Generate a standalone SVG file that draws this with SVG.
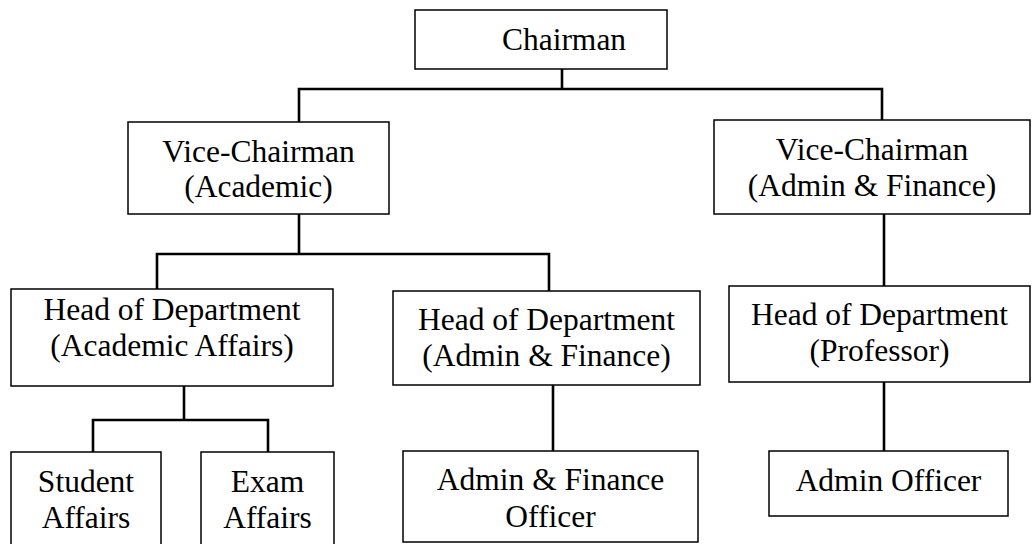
<svg xmlns="http://www.w3.org/2000/svg" width="1034" height="544" viewBox="0 0 1034 544" font-family="Liberation Serif, Times New Roman, serif">
<style>
.box{fill:#fff;stroke:#000;stroke-width:1.5}
.t{font-size:31.5px;fill:#000;text-anchor:middle}
.c{fill:none;stroke:#000;stroke-width:2.6}
</style>
<rect width="1034" height="544" fill="#fff"/>
<g id="connectors">
<path class="c" d="M562,69 V89 M299,122 V89 H882 V120"/>
<path class="c" d="M299,214 V254 M157,289 V254 H549 V291"/>
<path class="c" d="M884,214 V286"/>
<path class="c" d="M884,382 V451"/>
<path class="c" d="M184,386 V420 M93,452 V420 H268 V452"/>
<path class="c" d="M553,385 V451"/>
</g>
<g id="chairman"><rect class="box" x="415" y="10" width="252" height="59"/><text class="t" x="564" y="50">Chairman</text></g>
<g id="vc-academic"><rect class="box" x="128" y="122" width="261" height="92"/><text class="t" x="258.5" y="162">Vice-Chairman</text><text class="t" x="258.5" y="197">(Academic)</text></g>
<g id="vc-admin"><rect class="box" x="714" y="120" width="316" height="94"/><text class="t" x="872" y="160">Vice-Chairman</text><text class="t" x="872" y="196">(Admin &amp; Finance)</text></g>
<g id="hod-academic"><rect class="box" x="11" y="289" width="322" height="97"/><text class="t" x="172" y="320">Head of Department</text><text class="t" x="172" y="356">(Academic Affairs)</text></g>
<g id="hod-admin"><rect class="box" x="393" y="291" width="307" height="94"/><text class="t" x="546.5" y="330">Head of Department</text><text class="t" x="546.5" y="366">(Admin &amp; Finance)</text></g>
<g id="hod-professor"><rect class="box" x="729" y="286" width="301" height="96"/><text class="t" x="879.5" y="325">Head of Department</text><text class="t" x="879.5" y="361">(Professor)</text></g>
<g id="student-affairs"><rect class="box" x="11" y="452" width="150" height="100"/><text class="t" x="86" y="492">Student</text><text class="t" x="86" y="528">Affairs</text></g>
<g id="exam-affairs"><rect class="box" x="201" y="452" width="133" height="100"/><text class="t" x="267.5" y="492">Exam</text><text class="t" x="267.5" y="528">Affairs</text></g>
<g id="admin-finance-officer"><rect class="box" x="403" y="451" width="295" height="91"/><text class="t" x="550.5" y="490">Admin &amp; Finance</text><text class="t" x="550.5" y="527">Officer</text></g>
<g id="admin-officer"><rect class="box" x="769" y="451" width="239" height="65"/><text class="t" x="888.5" y="491">Admin Officer</text></g>
</svg>
